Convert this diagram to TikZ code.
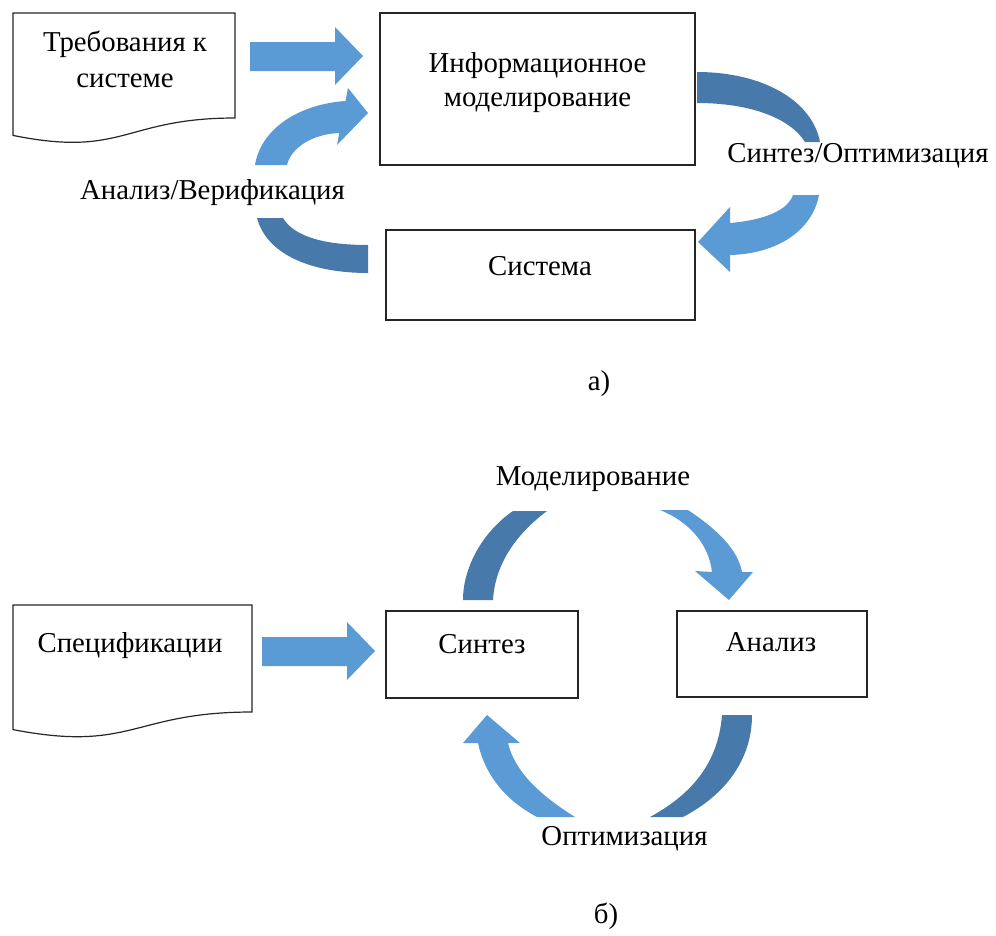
\documentclass[tikz,border=0pt]{standalone}
\usepackage{fontspec}
\setmainfont{Liberation Serif}
\definecolor{arrowlight}{RGB}{91,155,213}
\definecolor{arrowdark}{RGB}{71,121,170}
\begin{document}
\begin{tikzpicture}[x=1pt,y=-1pt,
  lbl/.style={font=\fontsize{28.8}{34}\selectfont, inner sep=0pt, anchor=base},
  box/.style={draw=black!85, line width=1.2pt, inner sep=0pt},
  doc/.style={draw=black!85, line width=1.2pt, fill=white},
  light/.style={fill=arrowlight},
  dark/.style={fill=arrowdark}]
\useasboundingbox (0,0) rectangle (996,935);

% ---------- a) ----------
% document shape with wavy bottom
\draw[doc] (13,13) -- (235,13) -- (235,118)
  .. controls (124,118) and (124,158) .. (13,135.4) -- cycle;

% boxes
\node[box, minimum width=315pt, minimum height=152pt] (info) at (537.5,89) {};
\node[box, minimum width=309pt, minimum height=90pt] (sys) at (540.5,275) {};

% straight block arrow
\fill[light] (250,42) -- (335,42) -- (335,27) -- (363,56) -- (335,85)
  -- (335,71) -- (250,71) -- cycle;

% curved arrow on the left: dark tail, light head
\fill[dark] (257,218) .. controls (267,255) and (312,273) .. (368,273)
  -- (368,245) .. controls (328,245) and (295,238) .. (283,218) -- cycle;
\fill[light] (255,165) .. controls (261,128) and (300,104) .. (345.5,101)
  -- (348,88) -- (368,113) -- (337,145) -- (339.3,133)
  .. controls (312,134) and (291,148) .. (287,165) -- cycle;

% curved arrow on the right
\fill[dark] (697,72) .. controls (762,72) and (812,100) .. (820,142)
  -- (805,142) .. controls (790,118) and (750,103) .. (697,103) -- cycle;
\fill[light] (819,195) .. controls (812,232) and (775,254) .. (730,255)
  -- (730,272) -- (698,242) -- (730,207) -- (730,223)
  .. controls (765,220) and (788,210) .. (793,195) -- cycle;

% texts
\node[lbl] (req1) at (125,51) {Требования к};
\node[lbl] (req2) at (125,87) {системе};
\node[lbl] (info1) at (537.5,72) {Информационное};
\node[lbl] (info2) at (537.5,106) {моделирование};
\node[lbl] (sysL) at (540,275) {Система};
\node[lbl] (av) at (212.5,199) {Анализ/Верификация};
\node[lbl] (so) at (858,162) {Синтез/Оптимизация};
\node[lbl] (la) at (599,390) {а)};

% ---------- б) ----------
\draw[doc] (13,605) -- (252,605) -- (252,712)
  .. controls (132.5,712) and (132.5,752.7) .. (13,729.6) -- cycle;

\node[box, minimum width=192pt, minimum height=87pt] (synth) at (482,654.5) {};
\node[box, minimum width=190pt, minimum height=86pt] (anal) at (772,654) {};

\fill[light] (262,637) -- (347,637) -- (347,622) -- (375,651) -- (347,680)
  -- (347,666) -- (262,666) -- cycle;

% upper arc: Синтез -> Анализ
\fill[dark] (463,600) .. controls (463,565) and (485,530) .. (513,511)
  -- (547,511) .. controls (515,535) and (495,565) .. (493,600) -- cycle;
\fill[light] (660,510) -- (688,510) .. controls (718,530) and (738,550) .. (742,572)
  -- (753,572) -- (729,600) -- (695,571) -- (712,572)
  .. controls (709,545) and (690,522) .. (660,510) -- cycle;

% lower arc: Анализ -> Синтез
\fill[dark] (722,715) -- (752,715) .. controls (752,760) and (725,795) .. (683,817)
  -- (650,817) .. controls (690,795) and (718,765) .. (722,715) -- cycle;
\fill[light] (537,817) .. controls (505,800) and (485,775) .. (478,743)
  -- (463,743) -- (487,715) -- (520,743) -- (508,743)
  .. controls (515,772) and (540,795) .. (575,817) -- cycle;

\node[lbl] (mod) at (593,485) {Моделирование};
\node[lbl] (spec) at (130,652) {Спецификации};
\node[lbl] (synthL) at (482,653) {Синтез};
\node[lbl] (analL) at (771,651) {Анализ};
\node[lbl] (opt) at (624.5,845) {Оптимизация};
\node[lbl] (lb) at (606,923) {б)};
\end{tikzpicture}
\end{document}
